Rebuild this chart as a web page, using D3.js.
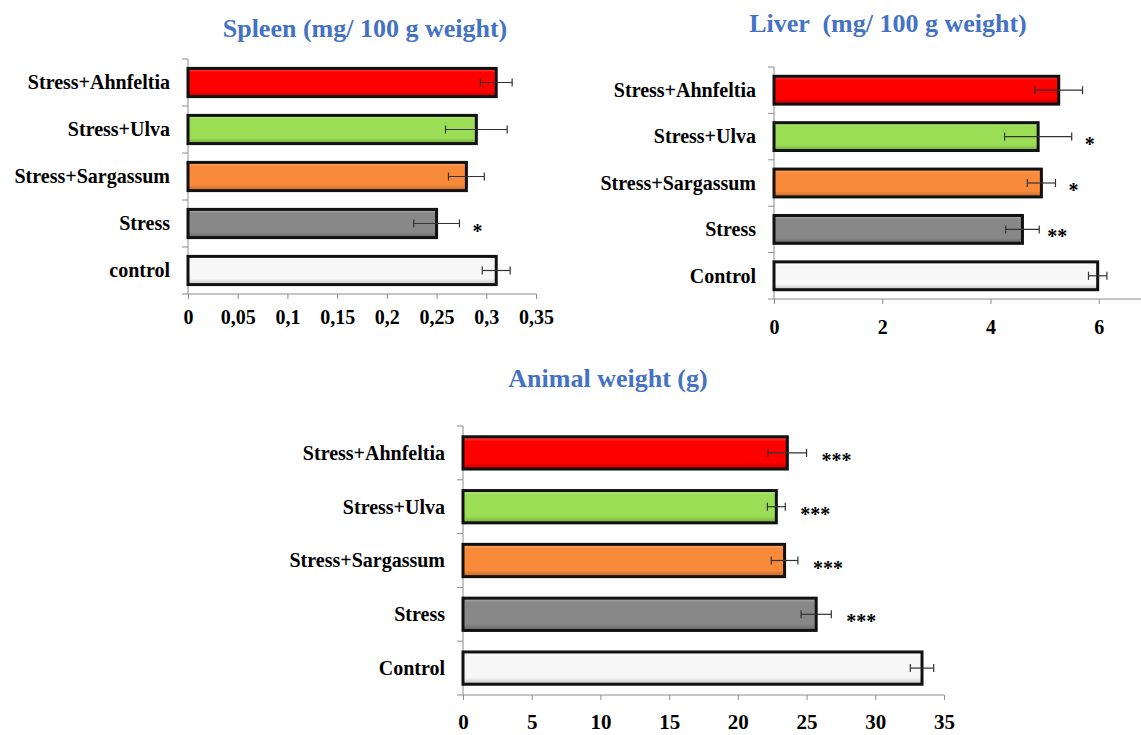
<!DOCTYPE html>
<html>
<head>
<meta charset="utf-8">
<script src="https://cdn.jsdelivr.net/npm/d3@7"></script>
<style>
  html, body { margin: 0; padding: 0; background: #fff; }
  svg { display: block; }
  text { font-family: "Liberation Serif", "Times New Roman", serif; font-weight: bold; }
</style>
</head>
<body>
<svg id="chart" width="1141" height="735"></svg>
<script>
// ---------- DATA ----------
const spleenCategories = ["Stress+Ahnfeltia", "Stress+Ulva", "Stress+Sargassum", "Stress", "control"];
const spleenValues = [0.31, 0.29, 0.28, 0.25, 0.31];
const spleenErrors = [0.016, 0.031, 0.018, 0.023, 0.014];
const spleenStars = ["", "", "", "*", ""];
const spleenTicks = [0, 0.05, 0.1, 0.15, 0.2, 0.25, 0.3, 0.35];
const spleenTickLabels = ["0", "0,05", "0,1", "0,15", "0,2", "0,25", "0,3", "0,35"];

const liverCategories = ["Stress+Ahnfeltia", "Stress+Ulva", "Stress+Sargassum", "Stress", "Control"];
const liverValues = [5.26, 4.88, 4.94, 4.59, 5.98];
const liverErrors = [0.44, 0.62, 0.26, 0.31, 0.17];
const liverStars = ["", "*", "*", "**", ""];
const liverTicks = [0, 2, 4, 6];
const liverTickLabels = ["0", "2", "4", "6"];

const weightCategories = ["Stress+Ahnfeltia", "Stress+Ulva", "Stress+Sargassum", "Stress", "Control"];
const weightValues = [23.6, 22.8, 23.4, 25.7, 33.4];
const weightErrors = [1.4, 0.65, 0.97, 1.1, 0.85];
const weightStars = ["***", "***", "***", "***", ""];
const weightTicks = [0, 5, 10, 15, 20, 25, 30, 35];
const weightTickLabels = ["0", "5", "10", "15", "20", "25", "30", "35"];

const barColors = ["#ff0000", "#9bdd55", "#f98a3a", "#888888", "#ffffff"];

// ---------- DRAWING ----------
const svg = d3.select("#chart");
svg.append("rect").attr("width", 1141).attr("height", 735).attr("fill", "#fff");

const defs = svg.append("defs");
barColors.forEach((c, i) => {
  const light = d3.interpolateRgb(c, "#ffffff")(0.35);
  const dark = d3.interpolateRgb(c, "#000000")(0.25);
  let top = light, mid = c, bot = dark;
  if (i === 4) { top = "#ffffff"; mid = "#f7f7f7"; bot = "#bdbdbd"; }
  const g = defs.append("linearGradient").attr("id", "grad" + i)
    .attr("x1", 0).attr("y1", 0).attr("x2", 0).attr("y2", 1);
  g.append("stop").attr("offset", "0%").attr("stop-color", top);
  g.append("stop").attr("offset", "14%").attr("stop-color", mid);
  g.append("stop").attr("offset", "80%").attr("stop-color", mid);
  g.append("stop").attr("offset", "100%").attr("stop-color", bot);
});

function drawChart(o) {
  const g = svg.append("g");
  const x = d3.scaleLinear().domain(o.domain).range([o.x0, o.x1]);
  const y = d3.scaleBand().domain(o.categories).range([o.y0, o.y1]).paddingInner(0.4).paddingOuter(0.2);
  const band = d3.scaleBand().domain(o.categories).range([o.y0, o.y1]);
  const axisColor = "#8c8c8c";

  // title
  g.append("text").attr("x", o.titleX).attr("y", o.titleY)
    .attr("text-anchor", "middle").attr("fill", "#4472c4")
    .style("white-space", "pre").attr("xml:space", "preserve")
    .attr("font-size", 26).text(o.title);

  // left axis line with category separators
  g.append("line").attr("x1", o.x0).attr("x2", o.x0).attr("y1", o.y0).attr("y2", o.y1)
    .attr("stroke", axisColor).attr("stroke-width", 1);
  const seps = [o.y0].concat(o.categories.map(c => band(c) + band.bandwidth()));
  g.selectAll(".sep").data(seps).enter().append("line")
    .attr("x1", o.x0 - 6).attr("x2", o.x0).attr("y1", d => d).attr("y2", d => d)
    .attr("stroke", axisColor).attr("stroke-width", 1);

  // bottom axis
  const xAxis = d3.axisBottom(x).tickValues(o.ticks).tickSize(5)
    .tickFormat((d, i) => o.tickLabels[i]);
  const ax = g.append("g").attr("transform", `translate(0,${o.y1})`).call(xAxis);
  ax.select(".domain").remove();
  ax.append("line").attr("x1", o.x0).attr("x2", o.axisEnd).attr("y1", 0).attr("y2", 0)
    .attr("stroke", axisColor);
  ax.selectAll(".tick line").attr("stroke", axisColor);
  ax.selectAll(".tick text").attr("fill", "#000").attr("font-size", o.tickFont)
    .attr("font-family", "Liberation Serif, Times New Roman, serif").attr("font-weight", "bold")
    .attr("y", o.tickLabelOffset).attr("dy", "0.35em");

  // category labels
  g.selectAll(".cat").data(o.categories).enter().append("text")
    .attr("x", o.x0 - 18).attr("y", d => y(d) + y.bandwidth() / 2)
    .attr("dy", "0.34em").attr("text-anchor", "end")
    .attr("font-size", 20).attr("fill", "#000").text(d => d);

  // bars
  g.selectAll(".bar").data(o.values).enter().append("rect")
    .attr("x", x(0)).attr("y", (d, i) => y(o.categories[i]))
    .attr("width", d => x(d) - x(0)).attr("height", y.bandwidth())
    .attr("fill", (d, i) => `url(#grad${i})`)
    .attr("stroke", "#111").attr("stroke-width", 3);

  // error bars
  const eb = g.selectAll(".err").data(o.values).enter().append("g")
    .attr("transform", (d, i) => `translate(0,${y(o.categories[i]) + y.bandwidth() / 2})`);
  eb.append("line").attr("x1", (d, i) => x(d - o.errors[i])).attr("x2", (d, i) => x(d + o.errors[i]))
    .attr("stroke", "#333").attr("stroke-width", 1.2);
  eb.append("line").attr("x1", (d, i) => x(d - o.errors[i])).attr("x2", (d, i) => x(d - o.errors[i]))
    .attr("y1", -4).attr("y2", 4).attr("stroke", "#333").attr("stroke-width", 1.2);
  eb.append("line").attr("x1", (d, i) => x(d + o.errors[i])).attr("x2", (d, i) => x(d + o.errors[i]))
    .attr("y1", -4).attr("y2", 4).attr("stroke", "#333").attr("stroke-width", 1.2);

  // significance stars
  g.selectAll(".star").data(o.stars).enter().append("text")
    .attr("x", (d, i) => x(o.values[i] + o.errors[i]) + o.starOffset)
    .attr("y", (d, i) => y(o.categories[i]) + y.bandwidth() / 2 + 14)
    .attr("text-anchor", "middle").attr("font-size", 20).attr("fill", "#000")
    .text(d => d);
}

drawChart({
  title: "Spleen (mg/ 100 g weight)", titleX: 365, titleY: 37,
  categories: spleenCategories, values: spleenValues, errors: spleenErrors, stars: spleenStars,
  ticks: spleenTicks, tickLabels: spleenTickLabels, domain: [0, 0.35],
  x0: 188, x1: 536, axisEnd: 536, y0: 59, y1: 294,
  tickFont: 20, tickLabelOffset: 23, starOffset: 18
});

drawChart({
  title: "Liver  (mg/ 100 g weight)", titleX: 888, titleY: 32,
  categories: liverCategories, values: liverValues, errors: liverErrors, stars: liverStars,
  ticks: liverTicks, tickLabels: liverTickLabels, domain: [0, 7],
  x0: 774, x1: 1152.9, axisEnd: 1141, y0: 67, y1: 299,
  tickFont: 20, tickLabelOffset: 28, starOffset: 18
});

drawChart({
  title: "Animal weight (g)", titleX: 608, titleY: 387,
  categories: weightCategories, values: weightValues, errors: weightErrors, stars: weightStars,
  ticks: weightTicks, tickLabels: weightTickLabels, domain: [0, 35],
  x0: 463, x1: 944, axisEnd: 944, y0: 426, y1: 695,
  tickFont: 21, tickLabelOffset: 27, starOffset: 30
});
</script>
</body>
</html>
